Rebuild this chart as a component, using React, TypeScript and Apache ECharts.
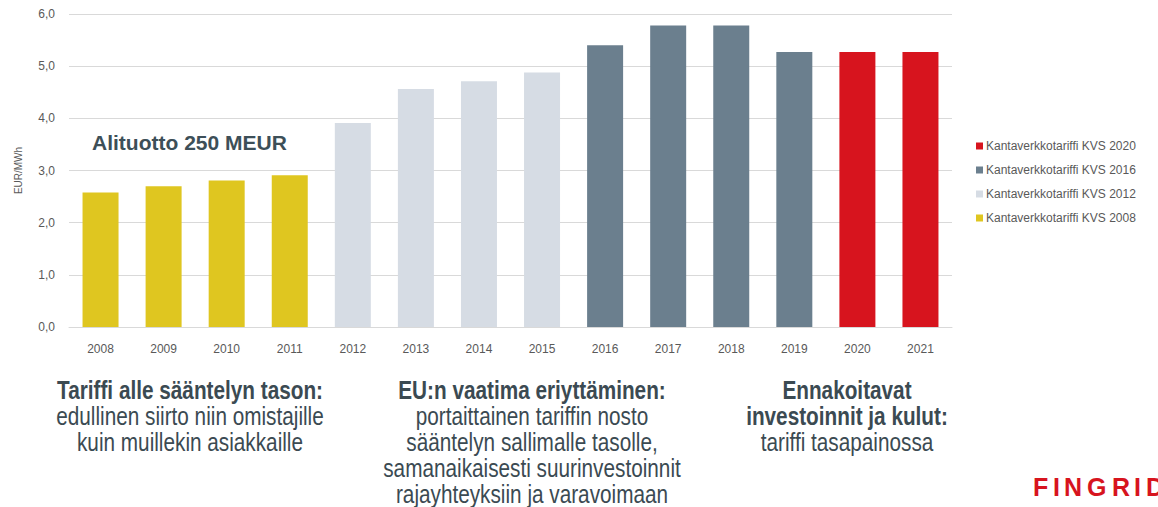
import React, { useEffect, useRef } from "react";
import * as echarts from "echarts";

const years = ["2008","2009","2010","2011","2012","2013","2014","2015","2016","2017","2018","2019","2020","2021"];
const kvs2008 = [2.58, 2.70, 2.81, 2.91, null, null, null, null, null, null, null, null, null, null];
const kvs2012 = [null, null, null, null, 3.91, 4.56, 4.71, 4.88, null, null, null, null, null, null];
const kvs2016 = [null, null, null, null, null, null, null, null, 5.40, 5.78, 5.78, 5.27, null, null];
const kvs2020 = [null, null, null, null, null, null, null, null, null, null, null, null, 5.27, 5.27];
const seriesNames = ["Kantaverkkotariffi KVS 2020", "Kantaverkkotariffi KVS 2016", "Kantaverkkotariffi KVS 2012", "Kantaverkkotariffi KVS 2008"];
const colors = ["#D7141E", "#6B7F8E", "#D6DCE4", "#DFC620"];

const sans = "'Liberation Sans', Arial, sans-serif";
const textColor = "#3B4A52";
const logoLetters = ["F", "I", "N", "G", "R", "I", "D"];
const logoX = [1033, 1053, 1064, 1087, 1112, 1134, 1146];

function block(x: number, y: number, lines: { t: string; b: boolean }[]) {
  return {
    type: "text",
    x,
    y,
    scaleX: 0.83,
    style: {
      text: lines.map((l) => `{${l.b ? "b" : "n"}|${l.t}}`).join("\n"),
      align: "center",
      fill: textColor,
      rich: {
        b: { fontSize: 25, fontWeight: "bold", fontFamily: sans, fill: textColor, lineHeight: 26 },
        n: { fontSize: 25, fontFamily: sans, fill: textColor, lineHeight: 26 },
      },
    },
  };
}

export default function App() {
  const ref = useRef<HTMLDivElement>(null);
  useEffect(() => {
    document.body.style.margin = "0";
    const chart = echarts.init(ref.current!, null, { renderer: "svg" });
    const dataSets = [kvs2020, kvs2016, kvs2012, kvs2008];
    chart.setOption({
      animation: false,
      backgroundColor: "#ffffff",
      grid: { left: 69, right: 206, top: 14, bottom: 180 },
      legend: {
        orient: "vertical",
        left: 971,
        top: 135,
        itemWidth: 7,
        itemHeight: 7,
        itemGap: 12,
        icon: "rect",
        data: seriesNames,
        textStyle: { fontSize: 12, color: "#595959", fontFamily: sans, padding: [0, 0, 0, -2] },
      },
      xAxis: {
        type: "category",
        data: years,
        axisLine: { lineStyle: { color: "#d9d9d9", width: 1 } },
        axisTick: { show: false },
        axisLabel: { color: "#595959", fontSize: 12, margin: 16, fontFamily: sans },
      },
      yAxis: {
        type: "value",
        min: 0,
        max: 6,
        interval: 1,
        name: "EUR/MWh",
        nameLocation: "middle",
        nameGap: 46,
        nameTextStyle: { color: "#595959", fontSize: 10, fontFamily: sans },
        axisLine: { show: false },
        axisTick: { show: false },
        splitLine: { lineStyle: { color: "#d9d9d9", width: 1 } },
        axisLabel: {
          color: "#595959",
          fontSize: 12,
          margin: 14,
          fontFamily: sans,
          formatter: (v: number) => v.toFixed(1).replace(".", ","),
        },
      },
      series: seriesNames.map((n, i) => ({
        name: n,
        type: "bar",
        stack: "all",
        barWidth: 36,
        data: dataSets[i],
        itemStyle: { color: colors[i] },
      })),
      graphic: [
        {
          type: "text",
          left: 92,
          top: 132,
          style: { text: "Alituotto 250 MEUR", fontSize: 21, fontWeight: "bold", fill: "#3D4F58", fontFamily: sans },
        },
        block(190, 377, [
          { t: "Tariffi alle sääntelyn tason:", b: true },
          { t: "edullinen siirto niin omistajille", b: false },
          { t: "kuin muillekin asiakkaille", b: false },
        ]),
        block(532, 377, [
          { t: "EU:n vaatima eriyttäminen:", b: true },
          { t: "portaittainen tariffin nosto", b: false },
          { t: "sääntelyn sallimalle tasolle,", b: false },
          { t: "samanaikaisesti suurinvestoinnit", b: false },
          { t: "rajayhteyksiin ja varavoimaan", b: false },
        ]),
        block(847, 377, [
          { t: "Ennakoitavat", b: true },
          { t: "investoinnit ja kulut:", b: true },
          { t: "tariffi tasapainossa", b: false },
        ]),
        ...logoLetters.map((ch, i) => ({
          type: "text",
          x: logoX[i],
          y: 474,
          style: { text: ch, fontSize: 25, fontWeight: "bold", fill: "#D7141E", fontFamily: sans },
        })),
      ],
    });
    return () => chart.dispose();
  }, []);
  return <div ref={ref} style={{ width: 1158, height: 507 }} />;
}
